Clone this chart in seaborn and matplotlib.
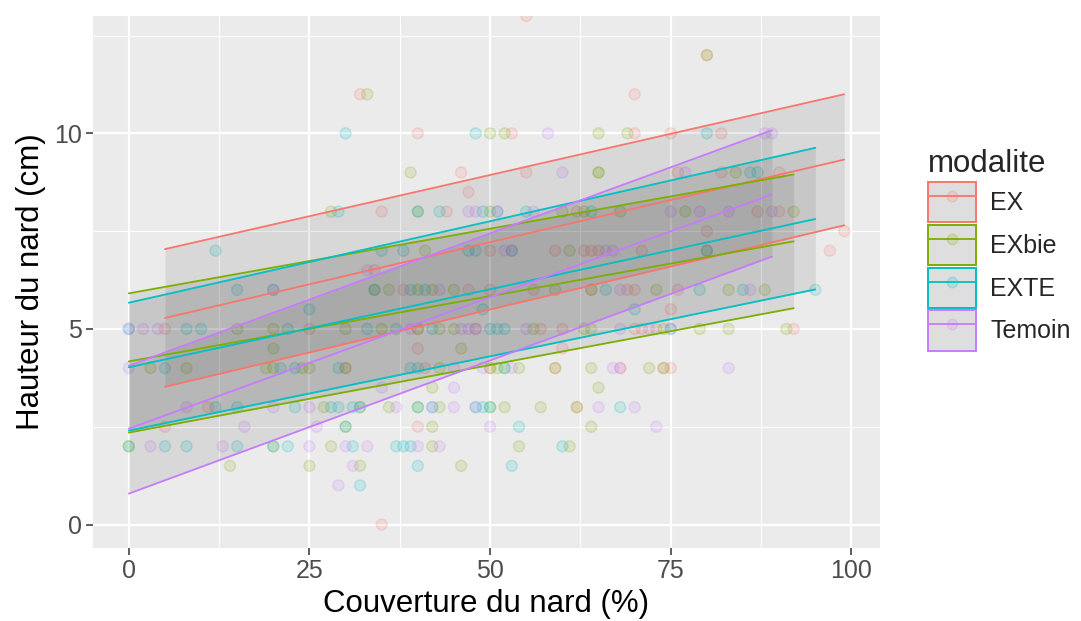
import numpy as np
import pandas as pd
import matplotlib
matplotlib.use("Agg")
import matplotlib.pyplot as plt
from matplotlib.ticker import MultipleLocator
from matplotlib.patches import Patch
from matplotlib.lines import Line2D
from matplotlib.legend_handler import HandlerTuple
import seaborn as sns

# Observations: plant height (cm) -> list of nard cover values (%) per treatment
ex_pts = {
    13: [55], 12: [80], 11: [32, 70],
    10: [40, 53, 70, 75, 82],
    9: [46, 55, 76, 82, 90], 8.5: [47],
    8: [35, 44, 62, 87, 90], 7.5: [80, 99],
    7: [50, 59, 63, 64, 65, 71, 97], 6.5: [34],
    6: [38, 47, 50, 56, 64, 69, 70, 76], 5.5: [75],
    5: [5, 25, 40, 48, 57, 60, 70, 71, 73, 92], 4.5: [40, 60],
    4: [30, 41, 50, 59, 68, 74, 75],
    3: [11, 62], 2.5: [5, 40], 0: [35],
}
exbie_pts = {
    12: [80], 11: [33],
    10: [50, 52, 65, 69],
    9: [39, 65, 65, 84],
    8: [28, 40, 50, 60, 63, 68, 77, 92],
    7: [41, 61, 80],
    6: [34, 36, 40, 42, 45, 59, 64, 73, 83, 88],
    5: [15, 20, 30, 35, 40, 43, 45, 56, 63, 64, 74, 79, 83, 91],
    4.5: [20, 46],
    4: [3, 8, 19, 20, 24, 25, 30, 43, 50, 51, 52, 54, 59, 64, 72, 74],
    3.5: [42, 65],
    3: [27, 32, 36, 40, 43, 50, 52, 57, 62],
    2.5: [30, 42, 64],
    2: [0, 20, 28, 42, 54, 61],
    1.5: [14, 25, 32, 46],
}
exte_pts = {
    10: [30, 48, 80], 9: [86, 87],
    8: [29, 40, 43, 49, 51, 55, 64],
    7: [12, 35, 38, 47, 48, 53, 80],
    6: [15, 20, 34, 39, 41, 66, 79, 85, 95],
    5.5: [25, 49, 70],
    5: [0, 8, 10, 22, 33, 37, 42, 50, 51, 52, 75],
    4: [5, 21, 23, 29, 39, 40, 52],
    3: [12, 15, 23, 28, 29, 31, 32, 40, 42, 48, 49, 50, 68],
    2.5: [30, 54],
    2: [0, 5, 8, 15, 20, 22, 31, 37, 38, 39, 60],
    1.5: [40, 53], 1: [32],
}
temoin_pts = {
    10: [58, 88, 89], 9: [60, 77],
    8: [47, 48, 51, 56, 75, 79, 83, 89],
    7: [52, 53, 66, 67], 6.5: [33],
    6: [20, 43, 68, 86],
    5: [0, 2, 4, 39, 46, 47, 48, 55, 68, 72, 75],
    4: [0, 45, 49, 53, 67, 68, 83],
    3.5: [35, 45],
    3: [8, 20, 25, 37, 42, 45, 48, 65, 70],
    2.5: [16, 26, 50, 73],
    2: [3, 13, 25, 30, 33, 40, 43],
    1.5: [31], 1: [29],
}

# Linear fits with prediction bands, given at both ends of each group's cover range
groups = ["EX", "EXbie", "EXTE", "Temoin"]
band_xmin = [5, 0, 0, 0]
band_xmax = [99, 92, 95, 89]
fit_start = [5.28, 4.17, 4.02, 2.45]
fit_end = [9.33, 7.24, 7.81, 8.44]
lwr_start = [3.52, 2.35, 2.40, 0.79]
lwr_end = [7.65, 5.53, 6.01, 6.85]
upr_start = [7.04, 5.91, 5.67, 4.06]
upr_end = [11.00, 8.95, 9.63, 10.08]

palette = {"EX": "#F8766D", "EXbie": "#7CAE00", "EXTE": "#00BFC4", "Temoin": "#C77CFF"}

rows = []
for g, pts in zip(groups, [ex_pts, exbie_pts, exte_pts, temoin_pts]):
    for h, covers in pts.items():
        for c in covers:
            rows.append((c, h, g))
obs = pd.DataFrame(rows, columns=["couverture", "hauteur", "modalite"])

line_rows = []
for i, g in enumerate(groups):
    for kind, a, b in (("fit", fit_start, fit_end),
                       ("lwr", lwr_start, lwr_end),
                       ("upr", upr_start, upr_end)):
        line_rows.append((band_xmin[i], a[i], g, kind))
        line_rows.append((band_xmax[i], b[i], g, kind))
lines = pd.DataFrame(line_rows, columns=["couverture", "hauteur", "modalite", "kind"])

sns.set_theme(style="darkgrid")
plt.rcParams["font.family"] = ["Liberation Sans", "DejaVu Sans"]

fig = plt.figure(figsize=(10.81, 6.21), dpi=100)
ax = fig.add_axes([93 / 1081, 1 - 548 / 621, (880 - 93) / 1081, (548 - 16) / 621])
ax.set_facecolor("#EBEBEB")

# points
sns.scatterplot(data=obs, x="couverture", y="hauteur", hue="modalite",
                palette=palette, hue_order=groups, s=62, linewidth=1.1,
                legend=False, ax=ax, zorder=2)
coll = ax.collections[-1]
fc = np.array(coll.get_facecolors())
fc[:, 3] = 0.15
ec = fc.copy()
ec[:, 3] = 0.2
coll.set_alpha(None)
coll.set_facecolors(fc)
coll.set_edgecolors(ec)

# prediction bands
for i, g in enumerate(groups):
    xs = [band_xmin[i], band_xmax[i]]
    ax.fill_between(xs, [lwr_start[i], lwr_end[i]], [upr_start[i], upr_end[i]],
                    color="#333333", alpha=0.1, linewidth=0, zorder=3)

# fit and band edges
sns.lineplot(data=lines, x="couverture", y="hauteur", hue="modalite",
             units="kind", estimator=None, palette=palette, hue_order=groups,
             linewidth=1.3, legend=False, ax=ax, zorder=4)

ax.set_xlim(-4.95, 103.95)
ax.set_ylim(-0.6, 13.0)
ax.xaxis.set_major_locator(MultipleLocator(25))
ax.xaxis.set_minor_locator(MultipleLocator(12.5))
ax.yaxis.set_major_locator(MultipleLocator(5))
ax.yaxis.set_minor_locator(MultipleLocator(2.5))
ax.grid(which="major", color="white", linewidth=1.6)
ax.grid(which="minor", color="white", linewidth=0.8)
ax.set_axisbelow(True)
for sp in ax.spines.values():
    sp.set_visible(False)
ax.tick_params(which="major", length=5, width=1.1, color="#333333",
               labelsize=18, labelcolor="#4D4D4D", pad=3, bottom=True, left=True)
ax.tick_params(which="minor", length=0)

ax.set_xlabel("Couverture du nard (%)", fontsize=22.5, color="black", labelpad=4)
ax.set_ylabel("Hauteur du nard (cm)", fontsize=22.5, color="black", labelpad=6)

handles = []
for g in groups:
    c = palette[g]
    key = Patch(facecolor="#DEDEDE", edgecolor=c, linewidth=1.4)
    ln = Line2D([], [], color=c, linewidth=1.3, marker="o", markersize=7.5,
                markerfacecolor=matplotlib.colors.to_rgba(c, 0.18),
                markeredgecolor=matplotlib.colors.to_rgba(c, 0.22))
    handles.append((key, ln))

leg = fig.legend(handles, groups, title="modalite",
                 handler_map={tuple: HandlerTuple(ndivide=1)},
                 loc="center left", bbox_to_anchor=(918 / 1081, 1 - 250 / 621),
                 frameon=False, fontsize=18, title_fontsize=22.5,
                 handlelength=1.9, handleheight=2.1, labelspacing=0.1,
                 handletextpad=0.6, borderaxespad=0, numpoints=1)
leg._legend_box.align = "left"

fig.savefig("out.png", dpi=100)
